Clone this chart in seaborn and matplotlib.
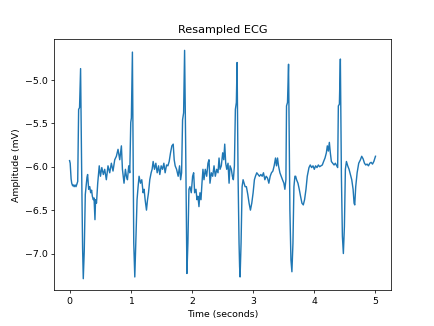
import matplotlib
matplotlib.use("Agg")
import matplotlib.pyplot as plt
import seaborn as sns
import pandas as pd

title = "Resampled ECG"
x_label = "Time (seconds)"
y_label = "Amplitude (mV)"

time_s = [
    0.000, 0.010, 0.025, 0.035, 0.050, 0.062, 0.075, 0.090, 0.105, 0.120,
    0.133, 0.148, 0.163, 0.180, 0.197, 0.213, 0.224, 0.240, 0.257, 0.268,
    0.285, 0.295, 0.312, 0.330, 0.345, 0.360, 0.372, 0.388, 0.400, 0.415,
    0.425, 0.440, 0.460, 0.485, 0.505, 0.527, 0.552, 0.574, 0.601, 0.628,
    0.656, 0.683, 0.710, 0.738, 0.765, 0.792, 0.820, 0.847, 0.864, 0.890,
    0.913, 0.929, 0.946, 0.967, 0.984, 1.000, 1.010, 1.027, 1.038, 1.049,
    1.066, 1.082, 1.103, 1.120, 1.136, 1.159, 1.180, 1.202, 1.218, 1.235,
    1.257, 1.274, 1.290, 1.311, 1.333, 1.349, 1.366, 1.388, 1.410, 1.432,
    1.454, 1.475, 1.497, 1.520, 1.541, 1.562, 1.585, 1.607, 1.628, 1.650,
    1.672, 1.694, 1.710, 1.726, 1.749, 1.775, 1.798, 1.815, 1.831, 1.847,
    1.864, 1.880, 1.897, 1.907, 1.918, 1.934, 1.951, 1.967, 1.989, 2.011,
    2.028, 2.044, 2.066, 2.082, 2.098, 2.115, 2.131, 2.148, 2.164, 2.180,
    2.197, 2.218, 2.241, 2.262, 2.279, 2.295, 2.317, 2.339, 2.361, 2.382,
    2.405, 2.426, 2.443, 2.459, 2.480, 2.503, 2.520, 2.536, 2.552, 2.569,
    2.590, 2.607, 2.623, 2.644, 2.661, 2.677, 2.694, 2.710, 2.726, 2.738,
    2.754, 2.770, 2.779, 2.787, 2.803, 2.820, 2.836, 2.852, 2.869, 2.890,
    2.913, 2.934, 2.956, 2.978, 3.000, 3.021, 3.038, 3.060, 3.082, 3.103,
    3.126, 3.148, 3.169, 3.192, 3.213, 3.235, 3.257, 3.279, 3.300, 3.323,
    3.344, 3.366, 3.382, 3.399, 3.415, 3.438, 3.459, 3.480, 3.503, 3.519,
    3.536, 3.546, 3.562, 3.579, 3.590, 3.601, 3.618, 3.634, 3.651, 3.667,
    3.683, 3.695, 3.710, 3.733, 3.754, 3.775, 3.798, 3.820, 3.841, 3.864,
    3.885, 3.913, 3.934, 3.956, 3.979, 4.000, 4.021, 4.044, 4.066, 4.087,
    4.110, 4.131, 4.152, 4.175, 4.197, 4.213, 4.230, 4.246, 4.262, 4.279,
    4.300, 4.323, 4.344, 4.366, 4.382, 4.393, 4.410, 4.426, 4.443, 4.459,
    4.475, 4.492, 4.508, 4.525, 4.546, 4.568, 4.590, 4.612, 4.634, 4.650,
    4.661, 4.677, 4.700, 4.726, 4.754, 4.775, 4.798, 4.820, 4.841, 4.863,
    4.885, 4.907, 4.929, 4.951, 4.973, 5.000,
]

amplitude_mv = [
    -5.93, -5.96, -6.14, -6.19, -6.22, -6.21, -6.23, -6.21, -6.23, -6.20,
    -6.17, -5.34, -5.32, -4.87, -6.01, -6.94, -7.29, -6.97, -6.32, -6.24,
    -6.12, -6.09, -6.26, -6.23, -6.30, -6.27, -6.34, -6.38, -6.36, -6.61,
    -6.38, -6.42, -6.19, -5.99, -6.11, -6.01, -6.09, -6.03, -6.15, -5.99,
    -6.07, -5.96, -6.05, -5.92, -5.88, -5.80, -5.92, -5.76, -6.03, -6.19,
    -6.03, -6.11, -6.15, -5.99, -6.07, -5.49, -5.44, -4.68, -5.72, -6.88,
    -7.27, -6.88, -6.38, -6.23, -6.11, -6.19, -6.15, -6.30, -6.26, -6.38,
    -6.50, -6.38, -6.30, -6.15, -6.07, -6.03, -5.94, -6.03, -5.96, -6.07,
    -5.99, -6.09, -5.99, -6.03, -5.96, -6.07, -5.98, -5.99, -5.94, -5.84,
    -5.76, -5.74, -5.92, -5.99, -6.03, -6.11, -5.99, -6.15, -6.07, -5.46,
    -5.38, -4.66, -5.72, -6.50, -7.23, -6.88, -6.26, -6.23, -6.30, -6.11,
    -6.07, -6.30, -6.26, -6.38, -6.34, -6.46, -6.30, -6.38, -6.19, -6.03,
    -6.15, -6.03, -6.11, -5.96, -5.92, -6.19, -6.07, -6.11, -5.99, -6.11,
    -6.03, -6.07, -5.90, -6.03, -5.99, -5.84, -5.92, -5.74, -5.96, -6.03,
    -5.96, -6.19, -5.99, -6.03, -6.11, -6.15, -5.99, -5.34, -5.26, -4.80,
    -6.11, -6.88, -7.15, -7.27, -6.88, -6.23, -6.15, -6.19, -6.23, -6.23,
    -6.32, -6.42, -6.50, -6.42, -6.30, -6.15, -6.11, -6.07, -6.09, -6.11,
    -6.09, -6.11, -6.07, -6.15, -6.11, -6.13, -6.19, -6.11, -6.07, -6.05,
    -5.99, -5.90, -5.99, -5.90, -5.99, -6.07, -6.11, -6.15, -6.19, -6.26,
    -6.15, -5.30, -5.26, -4.82, -5.72, -6.50, -7.07, -7.21, -6.88, -6.23,
    -6.11, -6.11, -6.15, -6.19, -6.26, -6.34, -6.42, -6.44, -6.38, -6.26,
    -6.11, -6.01, -5.98, -6.01, -5.99, -6.03, -5.99, -6.01, -5.98, -6.00,
    -5.99, -5.98, -5.94, -5.90, -5.84, -5.76, -5.82, -5.72, -5.84, -5.94,
    -5.96, -5.98, -5.96, -5.99, -6.01, -5.30, -5.28, -4.76, -6.11, -6.80,
    -7.00, -6.69, -6.03, -5.94, -5.99, -6.03, -6.09, -6.15, -6.26, -6.42,
    -6.44, -6.23, -6.07, -5.96, -5.92, -5.88, -5.91, -5.96, -5.98, -5.97,
    -5.99, -5.96, -5.95, -5.97, -5.94, -5.88,
]

df = pd.DataFrame({"t": time_s, "v": amplitude_mv})

dpi = 67.8
fig, ax = plt.subplots(figsize=(434.2 / dpi, 326.2 / dpi), dpi=dpi)
sns.lineplot(data=df, x="t", y="v", ax=ax, color="#1f77b4", linewidth=1.5,
             estimator=None, sort=False)
ax.set_title(title)
ax.set_xlabel(x_label)
ax.set_ylabel(y_label)
fig.savefig("out.png", dpi=dpi)
